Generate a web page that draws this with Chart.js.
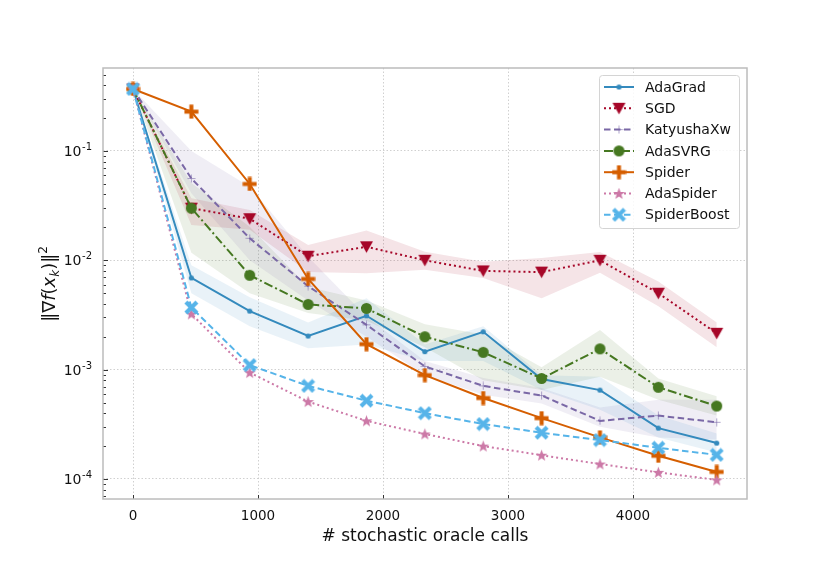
<!DOCTYPE html>
<html lang="en">
  <head>
    <meta charset="UTF-8" />
    <title>oracle calls</title>
    <script src="https://cdn.jsdelivr.net/npm/chart.js"></script>
    <style>
      html, body { margin: 0; padding: 0; background: #fff; }
      #wrap { width: 830px; height: 571px; }
    </style>
  </head>
  <body>
    <div id="wrap"><canvas id="myChart" width="830" height="571"></canvas></div>
    <script>
      // x positions (stochastic oracle calls)
      const calls = [0, 467, 934, 1401, 1868, 2335, 2802, 3269, 3736, 4203, 4670];
      const xTicks = [0, 1000, 2000, 3000, 4000];
      const yTicks = [1e-1, 1e-2, 1e-3, 1e-4];
      const yTickExp = ["-1", "-2", "-3", "-4"];

      const names = ["AdaGrad", "SGD", "KatyushaXw", "AdaSVRG", "Spider", "AdaSpider", "SpiderBoost"];

      const adagrad = [0.369, 6.9e-3, 3.43e-3, 2.03e-3, 3.11e-3, 1.46e-3, 2.22e-3, 8.2e-4, 6.5e-4, 2.92e-4, 2.13e-4];
      const sgd = [0.369, 0.030, 0.024, 0.0109, 0.0133, 0.0100, 0.0080, 0.0078, 0.0100, 0.0050, 2.15e-3];
      const katyusha = [0.369, 0.056, 0.0159, 5.8e-3, 2.57e-3, 1.07e-3, 7.1e-4, 5.8e-4, 3.4e-4, 3.8e-4, 3.3e-4];
      const adasvrg = [0.369, 0.030, 7.3e-3, 3.95e-3, 3.63e-3, 2.0e-3, 1.44e-3, 8.3e-4, 1.55e-3, 6.9e-4, 4.65e-4];
      const spider = [0.369, 0.229, 0.0499, 6.75e-3, 1.71e-3, 8.9e-4, 5.5e-4, 3.6e-4, 2.4e-4, 1.63e-4, 1.16e-4];
      const adaspider = [0.369, 3.23e-3, 9.4e-4, 5.1e-4, 3.4e-4, 2.58e-4, 2.0e-4, 1.65e-4, 1.37e-4, 1.15e-4, 9.8e-5];
      const spiderboost = [0.369, 3.7e-3, 1.10e-3, 7.1e-4, 5.2e-4, 4.0e-4, 3.18e-4, 2.65e-4, 2.27e-4, 1.93e-4, 1.66e-4];

      // shaded spread (low / high)
      const adagradLo = [0.369, 5.0e-3, 2.5e-3, 1.57e-3, 1.7e-3, 1.2e-3, 1.2e-3, 6.5e-4, 4.3e-4, 2.4e-4, 1.75e-4];
      const adagradHi = [0.369, 9.0e-3, 4.6e-3, 2.7e-3, 4.5e-3, 1.7e-3, 2.5e-3, 8.9e-4, 8.6e-4, 3.8e-4, 2.6e-4];
      const sgdLo = [0.369, 0.021, 0.019, 0.0078, 0.0076, 0.0082, 0.0069, 0.0045, 0.0077, 0.0038, 0.0016];
      const sgdHi = [0.369, 0.037, 0.0288, 0.0138, 0.0187, 0.0120, 0.0097, 0.0105, 0.0119, 0.0064, 0.0027];
      const katyushaLo = [0.369, 0.041, 0.010, 4.3e-3, 2.0e-3, 8.9e-4, 5.9e-4, 4.9e-4, 3.0e-4, 2.4e-4, 2.3e-4];
      const katyushaHi = [0.369, 0.10, 0.047, 0.0108, 3.05e-3, 1.2e-3, 8.4e-4, 6.8e-4, 4.5e-4, 5.3e-4, 5.3e-4];
      const adasvrgLo = [0.369, 0.0117, 5.0e-3, 3.3e-3, 2.8e-3, 1.6e-3, 8.0e-4, 6.5e-4, 8.6e-4, 5.3e-4, 3.8e-4];
      const adasvrgHi = [0.369, 0.051, 0.0203, 5.7e-3, 4.3e-3, 2.6e-3, 2.1e-3, 1.05e-3, 2.3e-3, 8.3e-4, 5.7e-4];

      const colors = ["#348ABD", "#A60628", "#7A68A6", "#467821", "#D55E00", "#CC79A7", "#56B4E9"];

      function mk(size, draw) {
        const c = document.createElement("canvas");
        c.width = size;
        c.height = size;
        const g = c.getContext("2d");
        draw(g, size / 2);
        return c;
      }
      const dot = mk(7, (g, h) => { g.fillStyle = colors[0]; g.beginPath(); g.arc(h, h, 2.6, 0, Math.PI * 2); g.fill(); });
      const triDown = mk(15, (g, h) => {
        g.fillStyle = colors[1];
        g.beginPath(); g.moveTo(h - 6.5, h - 5.5); g.lineTo(h + 6.5, h - 5.5); g.lineTo(h, h + 6); g.closePath(); g.fill();
      });
      const thinPlus = mk(9, (g, h) => {
        g.strokeStyle = "rgba(122,104,166,0.6)"; g.lineWidth = 1;
        g.beginPath(); g.moveTo(h, 0.5); g.lineTo(h, 8.5); g.moveTo(0.5, h); g.lineTo(8.5, h); g.stroke();
      });
      const circ = mk(13, (g, h) => { g.fillStyle = colors[3]; g.beginPath(); g.arc(h, h, 5.5, 0, Math.PI * 2); g.fill(); });
      const fatPlus = mk(15, (g, h) => {
        g.fillStyle = colors[4];
        g.fillRect(h - 2, h - 7, 4, 14); g.fillRect(h - 7, h - 2, 14, 4);
      });
      const star = mk(13, (g, h) => {
        g.fillStyle = colors[5]; g.beginPath();
        for (let i = 0; i < 10; i++) {
          const r = i % 2 ? 2.6 : 6.2;
          const a = -Math.PI / 2 + i * Math.PI / 5;
          g.lineTo(h + r * Math.cos(a), h + 0.5 + r * Math.sin(a));
        }
        g.closePath(); g.fill();
      });
      const fatX = mk(15, (g, h) => {
        g.strokeStyle = colors[6]; g.lineWidth = 4.2; g.lineCap = "butt";
        g.beginPath(); g.moveTo(h - 5.5, h - 5.5); g.lineTo(h + 5.5, h + 5.5);
        g.moveTo(h + 5.5, h - 5.5); g.lineTo(h - 5.5, h + 5.5); g.stroke();
      });

      const pts = (arr) => arr.map((v, i) => ({ x: calls[i], y: v }));
      function rgba(hex, a) {
        const n = parseInt(hex.slice(1), 16);
        return `rgba(${n >> 16},${(n >> 8) & 255},${n & 255},${a})`;
      }

      const bands = [
        [adagradLo, adagradHi, colors[0]],
        [sgdLo, sgdHi, colors[1]],
        [katyushaLo, katyushaHi, colors[2]],
        [adasvrgLo, adasvrgHi, colors[3]],
      ];
      const series = [
        [adagrad, [], dot],
        [sgd, [2, 3], triDown],
        [katyusha, [6.5, 3.5], thinPlus],
        [adasvrg, [9, 3, 2, 3], circ],
        [spider, [], fatPlus],
        [adaspider, [2, 3], star],
        [spiderboost, [6.5, 3.5], fatX],
      ];

      const datasets = [];
      bands.forEach(([lo, hi, c]) => {
        datasets.push({ data: pts(hi), borderWidth: 0, pointRadius: 0, fill: false, order: 100 });
        datasets.push({ data: pts(lo), borderWidth: 0, pointRadius: 0, fill: "-1", backgroundColor: rgba(c, 0.11), order: 100 });
      });
      series.forEach(([vals, dash, marker], i) => {
        datasets.push({
          label: names[i],
          data: pts(vals),
          borderColor: colors[i],
          borderWidth: 2,
          borderDash: dash,
          pointStyle: marker,
          pointRadius: 6,
          fill: false,
          tension: 0,
          order: 20 - i,
        });
      });

      // ticks inside the frame, tick labels, y title, frame and legend box
      const decor = {
        id: "decor",
        afterDraw(chart) {
          const { ctx, chartArea: a, scales } = chart;
          ctx.save();
          ctx.strokeStyle = "#333";
          ctx.lineWidth = 1;
          for (let d = -5; d <= 0; d++) {
            for (let k = 1; k <= 9; k++) {
              const v = k * Math.pow(10, d);
              if (v < scales.y.min || v > scales.y.max) continue;
              const y = Math.round(scales.y.getPixelForValue(v)) + 0.5;
              const len = k === 1 ? 5 : 3;
              ctx.beginPath(); ctx.moveTo(a.left, y); ctx.lineTo(a.left + len, y); ctx.stroke();
            }
          }
          xTicks.forEach((t) => {
            const x = Math.round(scales.x.getPixelForValue(t)) + 0.5;
            ctx.beginPath(); ctx.moveTo(x, a.bottom); ctx.lineTo(x, a.bottom - 4); ctx.stroke();
          });
          ctx.strokeStyle = "#bcbcbc";
          ctx.lineWidth = 1.5;
          ctx.strokeRect(a.left, a.top, a.right - a.left, a.bottom - a.top);

          // y tick labels 10^-n
          ctx.fillStyle = "#111";
          ctx.textBaseline = "alphabetic";
          yTicks.forEach((v, i) => {
            const y = scales.y.getPixelForValue(v);
            ctx.font = "10px 'DejaVu Sans'";
            ctx.textAlign = "right";
            const ew = ctx.measureText(yTickExp[i]).width;
            ctx.fillText(yTickExp[i], 92, y - 1);
            ctx.font = "14px 'DejaVu Sans'";
            ctx.fillText("10", 92 - ew - 0.5, y + 5);
          });

          // y title ||∇f(x_k)||^2
          ctx.translate(55, 284);
          ctx.rotate(-Math.PI / 2);
          const parts = [
            ["‖∇", "18px 'DejaVu Sans'", 0],
            ["f", "italic 18px 'DejaVu Sans'", 0],
            ["(", "18px 'DejaVu Sans'", 0],
            ["x", "italic 18px 'DejaVu Sans'", 0],
            ["k", "italic 12px 'DejaVu Sans'", 3.5],
            [")‖", "18px 'DejaVu Sans'", 0],
            ["2", "12px 'DejaVu Sans'", -8],
          ];
          let total = 0;
          parts.forEach(([t, f]) => { ctx.font = f; total += ctx.measureText(t).width; });
          let px = -total / 2;
          ctx.textAlign = "left";
          parts.forEach(([t, f, dy]) => {
            ctx.font = f;
            ctx.fillText(t, px, dy);
            px += ctx.measureText(t).width;
          });
          ctx.setTransform(1, 0, 0, 1, 0, 0);

          // legend
          const bx = 599, by = 75, bw = 140, bh = 153;
          ctx.fillStyle = "rgba(255,255,255,0.85)";
          ctx.strokeStyle = "#d4d4d4";
          ctx.lineWidth = 1;
          ctx.beginPath();
          ctx.roundRect(bx + 0.5, by + 0.5, bw, bh, 3);
          ctx.fill(); ctx.stroke();
          ctx.font = "14px 'DejaVu Sans'";
          ctx.textBaseline = "middle";
          series.forEach(([vals, dash, marker], i) => {
            const y = by + 12 + i * 21.3;
            ctx.strokeStyle = colors[i];
            ctx.lineWidth = 2;
            ctx.setLineDash(dash);
            ctx.beginPath(); ctx.moveTo(604, y); ctx.lineTo(634, y); ctx.stroke();
            ctx.setLineDash([]);
            ctx.drawImage(marker, 619 - marker.width / 2, y - marker.height / 2);
            ctx.fillStyle = "#111";
            ctx.fillText(names[i], 645, y + 1);
          });
          ctx.restore();
        },
      };

      const ctx = document.getElementById("myChart").getContext("2d");
      const myChart = new Chart(ctx, {
        type: "line",
        data: { datasets },
        plugins: [decor],
        options: {
          responsive: false,
          animation: false,
          events: [],
          layout: { padding: { left: 0, right: 83, top: 68, bottom: 24 } },
          plugins: { legend: { display: false }, tooltip: { enabled: false } },
          scales: {
            x: {
              type: "linear",
              min: -240,
              max: 4912,
              afterBuildTicks: (s) => { s.ticks = xTicks.map((v) => ({ value: v })); },
              afterFit: (s) => { s.height = 48; },
              grid: { color: "#c4c4c4", drawTicks: false, lineWidth: 0.8 },
              border: { display: false, dash: [1.5, 2] },
              ticks: {
                color: "#111",
                padding: 9,
                font: { family: "DejaVu Sans", size: 13.5 },
                callback: (v) => String(v),
              },
              title: {
                display: true,
                text: "# stochastic oracle calls",
                color: "#111",
                font: { family: "DejaVu Sans", size: 17 },
                padding: { top: 0, bottom: 0 },
              },
            },
            y: {
              type: "logarithmic",
              min: 6.56e-5,
              max: 0.574,
              afterBuildTicks: (s) => { s.ticks = yTicks.map((v) => ({ value: v })); },
              afterFit: (s) => { s.width = 103; },
              grid: { color: "#c4c4c4", drawTicks: false, lineWidth: 0.8 },
              border: { display: false, dash: [1.5, 2] },
              ticks: { display: false },
            },
          },
        },
      });
    </script>
  </body>
</html>
